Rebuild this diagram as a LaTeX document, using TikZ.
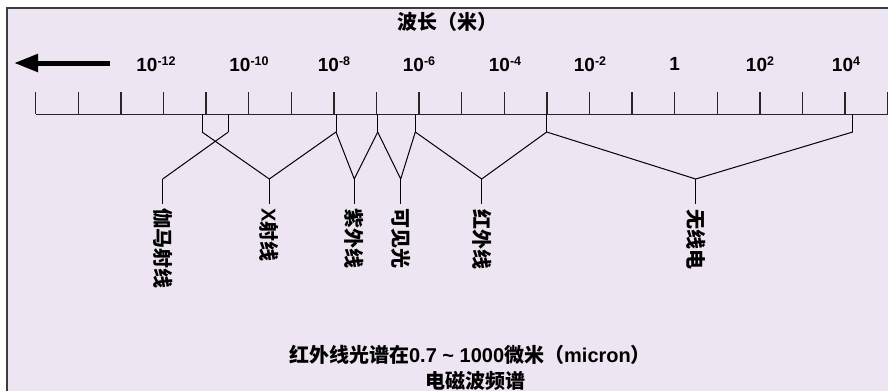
\documentclass[tikz,border=0pt]{standalone}
\usepackage{fontspec}
\setmainfont{Liberation Sans}
\newfontfamily\cjk{Noto Sans CJK SC}
\newfontfamily\latn{Liberation Sans}
\usetikzlibrary{arrows.meta}
\definecolor{bgfill}{RGB}{237,229,242}
\definecolor{frame}{RGB}{60,60,60}
\tikzset{
  lbl/.style={inner sep=0pt, font=\fontsize{19}{19}\selectfont\bfseries},
  cjklbl/.style={inner sep=0pt, font=\fontsize{20}{22}\selectfont\cjk\bfseries},
  vlabel/.style={cjklbl, rotate=-90, anchor=west},
  conn/.style={line width=1pt, black},
  tick/.style={line width=1.3pt, black!85},
}
\newcommand{\pw}[2]{#1\raisebox{6pt}{\fontsize{12.5}{12.5}\selectfont #2}}
\newcommand{\lt}[1]{{\latn\bfseries #1}}
\begin{document}
\begin{tikzpicture}[x=1pt,y=-1pt]
\useasboundingbox (0,0) rectangle (888,391);
\fill[bgfill] (7,8) rectangle (888,391);
\draw[frame, line width=2pt] (7,391) -- (7,7.5) -- (888,7.5);
% title
\node[cjklbl] (title) at (447,22) {波长（米）};
% arrow
\coordinate (arrS) at (110,63);
\coordinate (arrE) at (14,63);
\draw[line width=5pt, -{Triangle[length=24pt,width=17pt]}] (arrS) -- (arrE);
% scale labels
\node[lbl] (l1) at (156,64) {\pw{10}{-12}};
\node[lbl] (l2) at (249,64) {\pw{10}{-10}};
\node[lbl] (l3) at (334,64) {\pw{10}{-8}};
\node[lbl] (l4) at (419,64) {\pw{10}{-6}};
\node[lbl] (l5) at (505,64) {\pw{10}{-4}};
\node[lbl] (l6) at (590,64) {\pw{10}{-2}};
\node[lbl] (l7) at (674.7,64) {1};
\node[lbl] (l8) at (760,64) {\pw{10}{2}};
\node[lbl] (l9) at (846,64) {\pw{10}{4}};
% ruler
\foreach \i in {0,...,20} \draw[tick] (35.7+42.6*\i,92) -- (35.7+42.6*\i,114.3);
\coordinate (rL) at (35.7,114.3);
\coordinate (rR) at (888,114.3);
\draw[tick] (rL) -- (rR);
% drop points on ruler and elbows
\foreach \n/\x in {a/202,b/228.3,c/336,d/377.7,e/415.3,f/546.7,g/852.7}{
  \coordinate (top\n) at (\x,114.3);
  \coordinate (elb\n) at (\x,132);
  \draw[conn] (top\n) -- (elb\n);
}
% junctions
\foreach \n/\x in {G/162.7,X/269.3,U/354.3,V/400.7,I/481.7,R/695.7}{
  \coordinate (j\n) at (\x,179);
  \coordinate (s\n) at (\x,204);
  \draw[conn] (j\n) -- (s\n);
}
\draw[conn] (elbb) -- (jG);
\draw[conn] (elba) -- (jX) -- (elbc);
\draw[conn] (elbc) -- (jU) -- (elbd);
\draw[conn] (elbd) -- (jV) -- (elbe);
\draw[conn] (elbe) -- (jI) -- (elbf);
\draw[conn] (elbf) -- (jR) -- (elbg);
% vertical labels
\node[vlabel] (tG) at (162.7,208) {伽马射线};
\node[vlabel] (tX) at (269.3,208) {\lt{X}射线};
\node[vlabel] (tU) at (354.3,208) {紫外线};
\node[vlabel] (tV) at (400.7,208) {可见光};
\node[vlabel] (tI) at (481.7,209) {红外线};
\node[vlabel] (tR) at (695.7,209) {无线电};
% bottom text
\node[cjklbl] (b1) at (470,355) {红外线光谱在\lt{0.7 \char`\~{} 1000}微米（\lt{micron}）};
\node[cjklbl] (b2) at (475,381) {电磁波频谱};
\end{tikzpicture}
\end{document}
